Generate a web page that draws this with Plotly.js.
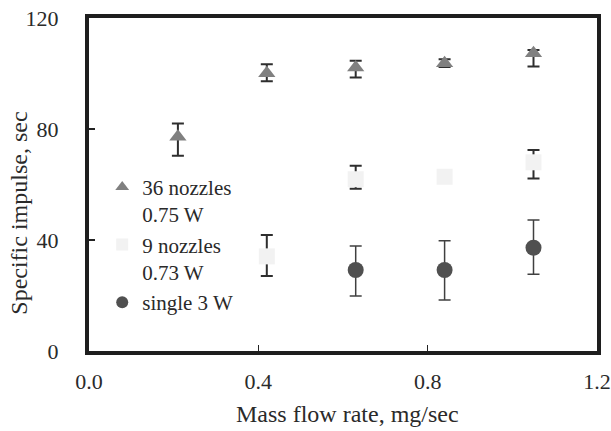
<!DOCTYPE html>
<html>
<head>
<meta charset="utf-8">
<script src="https://cdn.plot.ly/plotly-3.0.1.min.js"></script>
<style>
html,body{margin:0;padding:0;background:#fff;}
#chart{width:611px;height:431px;}
</style>
</head>
<body>
<div id="chart"></div>
<script>
// Data
const flowRate = [0.21, 0.42, 0.63, 0.84, 1.05];

const nozzles36Name = "36 nozzles<br>0.75 W";
const nozzles36X = [0.21, 0.42, 0.63, 0.84, 1.05];
const nozzles36Isp = [77.2, 100.1, 102.2, 103.7, 107.3];
const nozzles36ErrPlus = [4.8, 3.2, 2.4, 1.4, 1.2];
const nozzles36ErrMinus = [6.8, 2.9, 3.6, 1.4, 4.8];

const nozzles9Name = "9 nozzles<br>0.73 W";
const nozzles9X = [0.42, 0.63, 0.84, 1.05];
const nozzles9Isp = [34.1, 61.9, 62.8, 68.0];
const nozzles9ErrPlus = [7.7, 4.9, 1.5, 4.4];
const nozzles9ErrMinus = [7.1, 3.4, 1.5, 5.8];

const singleName = "single 3 W";
const singleX = [0.63, 0.84, 1.05];
const singleIsp = [29.2, 29.2, 37.2];
const singleErrPlus = [8.6, 10.5, 10.0];
const singleErrMinus = [9.4, 10.8, 9.5];

const xTickVals = [0.0, 0.4, 0.8, 1.2];
const xTickText = ["0.0", "0.4", "0.8", "1.2"];
const yTickVals = [0, 40, 80, 120];
const yTickText = ["0", "40", "80", "120"];

const xTitle = "Mass flow rate, mg/sec";
const yTitle = "Specific impulse, sec";

const serif = "'Liberation Serif', 'Times New Roman', Times, serif";
const textColor = "#2a2a2a";

const traces = [
  {
    x: nozzles36X, y: nozzles36Isp, name: nozzles36Name,
    type: "scatter", mode: "markers",
    marker: {symbol: "triangle-up", size: 15, color: "#808080", line: {width: 0}},
    error_y: {type: "data", symmetric: false, array: nozzles36ErrPlus, arrayminus: nozzles36ErrMinus,
              color: "#2e2e2e", thickness: 2, width: 6}
  },
  {
    x: nozzles9X, y: nozzles9Isp, name: nozzles9Name,
    type: "scatter", mode: "markers",
    marker: {symbol: "square", size: 16, color: "#f2f2f2", line: {width: 0}},
    error_y: {type: "data", symmetric: false, array: nozzles9ErrPlus, arrayminus: nozzles9ErrMinus,
              color: "#2e2e2e", thickness: 2, width: 6}
  },
  {
    x: singleX, y: singleIsp, name: singleName,
    type: "scatter", mode: "markers",
    marker: {symbol: "circle", size: 16, color: "#505050", line: {width: 0}},
    error_y: {type: "data", symmetric: false, array: singleErrPlus, arrayminus: singleErrMinus,
              color: "#404040", thickness: 1.5, width: 6}
  }
];

const layout = {
  width: 611, height: 431,
  margin: {l: 89, r: 14, t: 18, b: 80, pad: 0},
  paper_bgcolor: "#ffffff",
  plot_bgcolor: "#ffffff",
  font: {family: serif, size: 22, color: textColor},
  showlegend: true,
  legend: {
    x: 0.026, y: 0.553, xanchor: "left", yanchor: "top",
    bgcolor: "rgba(0,0,0,0)", borderwidth: 0,
    font: {family: serif, size: 21, color: textColor},
    itemsizing: "constant", valign: "top", traceorder: "normal",
    tracegroupgap: 0
  },
  xaxis: {
    range: [0, 1.2], tickmode: "array", tickvals: xTickVals, ticktext: xTickText,
    ticks: "inside", ticklen: 6, tickwidth: 1.5, tickcolor: "#222",
    showline: true, linewidth: 4, linecolor: "#1e1e1e", mirror: true,
    showgrid: false, zeroline: false,
    tickfont: {family: serif, size: 22, color: textColor},
    ticklabelstandoff: 8, fixedrange: true
  },
  yaxis: {
    range: [0, 120], tickmode: "array", tickvals: yTickVals, ticktext: yTickText,
    ticks: "inside", ticklen: 6, tickwidth: 1.5, tickcolor: "#222",
    showline: true, linewidth: 4, linecolor: "#1e1e1e", mirror: true,
    showgrid: false, zeroline: false,
    tickfont: {family: serif, size: 22, color: textColor},
    ticklabelstandoff: 22, fixedrange: true
  },
  annotations: [
    {
      text: xTitle, xref: "paper", yref: "paper", x: 0.508, y: -0.19,
      xanchor: "center", yanchor: "middle", showarrow: false,
      font: {family: serif, size: 24, color: textColor}
    },
    {
      text: yTitle, xref: "paper", yref: "paper", x: -0.138, y: 0.415,
      xanchor: "center", yanchor: "middle", showarrow: false, textangle: -90,
      font: {family: serif, size: 24, color: textColor}
    }
  ]
};

Plotly.newPlot("chart", traces, layout, {displayModeBar: false, staticPlot: true});
</script>
</body>
</html>
